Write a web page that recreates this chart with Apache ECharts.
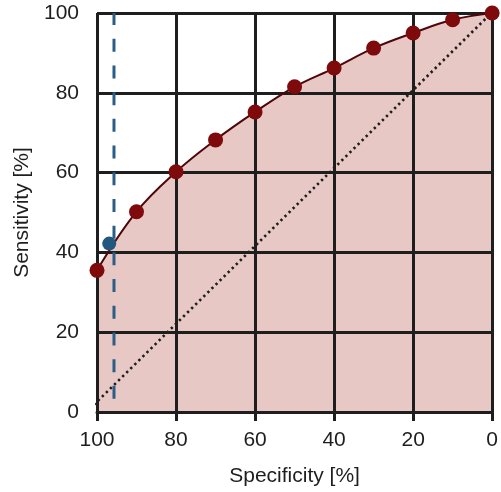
<!DOCTYPE html>
<html>
<head>
<meta charset="utf-8">
<script src="https://cdn.jsdelivr.net/npm/echarts@6/dist/echarts.min.js"></script>
<style>html,body{margin:0;padding:0;background:#fff}#c{width:501px;height:492px}</style>
</head>
<body>
<div id="c"></div>
<script>
var specificity = [100, 90, 80, 70, 60, 50, 40, 30, 20, 10, 0];
var sensitivity = [35.5, 50.2, 60.2, 68.2, 75.2, 81.5, 86.2, 91.2, 95, 98.3, 100];
var cutoffPoint = [96.9, 42.2];
var cutoffLine = [[95.7, 3.3], [95.7, 100]];
var diagonal = [[100.8, 1.8], [0.5, 99.7]];
var xTicks = [0, 20, 40, 60, 80, 100];
var yTicks = [0, 20, 40, 60, 80, 100];

var rocData = specificity.map(function (s, i) { return [s, sensitivity[i]]; });
var font = '"Liberation Sans", Arial, Helvetica, sans-serif';
var ink = '#1e1e1e';

var chart = echarts.init(document.getElementById('c'), null, {renderer: 'canvas'});
chart.setOption({
  animation: false,
  grid: {left: 97, right: 4, top: 13, bottom: 79},
  xAxis: {
    type: 'value', inverse: true, min: 0, max: 100, interval: 20,
    name: 'Specificity [%]', nameLocation: 'middle', nameGap: 54,
    nameTextStyle: {fontFamily: font, fontSize: 21, color: ink},
    axisLine: {show: true, lineStyle: {color: ink, width: 3}},
    axisTick: {show: true, length: 9, lineStyle: {color: ink, width: 3}},
    axisLabel: {fontFamily: font, fontSize: 21, color: ink, margin: 18,
      formatter: function (v) { return xTicks.indexOf(v) >= 0 ? String(v) : ''; }},
    splitLine: {show: true, lineStyle: {color: ink, width: 3}}
  },
  yAxis: {
    type: 'value', min: 0, max: 100, interval: 20,
    name: 'Sensitivity [%]', nameLocation: 'middle', nameGap: 59,
    nameTextStyle: {fontFamily: font, fontSize: 21, color: ink},
    axisLine: {show: true, lineStyle: {color: ink, width: 3}},
    axisTick: {show: true, length: 9, lineStyle: {color: ink, width: 3}},
    axisLabel: {fontFamily: font, fontSize: 21, color: ink, margin: 18,
      formatter: function (v) { return yTicks.indexOf(v) >= 0 ? String(v) : ''; }},
    splitLine: {show: true, lineStyle: {color: ink, width: 3}}
  },
  series: [
    {
      type: 'line', data: rocData, smooth: 0.4, z: -1, silent: true,
      showSymbol: false, lineStyle: {width: 0, opacity: 0},
      areaStyle: {color: '#e7c8c5', opacity: 1, origin: 'start'}
    },
    {
      type: 'line', data: diagonal, z: 3, showSymbol: false, silent: true,
      lineStyle: {color: '#1e1e1e', width: 2.6, type: [2.4, 3.3], cap: 'butt'}
    },
    {
      type: 'line', data: cutoffLine, z: 3, showSymbol: false, silent: true,
      lineStyle: {color: '#2a5e86', width: 3, type: [13, 13.7]}
    },
    {
      type: 'line', data: rocData, smooth: 0.4, z: 4,
      symbol: 'circle', symbolSize: 15, showSymbol: true,
      itemStyle: {color: '#7e0a0c', opacity: 1},
      lineStyle: {color: '#4e0608', width: 2}
    },
    {
      type: 'scatter', data: [cutoffPoint], z: 5,
      symbol: 'circle', symbolSize: 14,
      itemStyle: {color: '#22587f', opacity: 1}
    }
  ]
});
</script>
</body>
</html>
